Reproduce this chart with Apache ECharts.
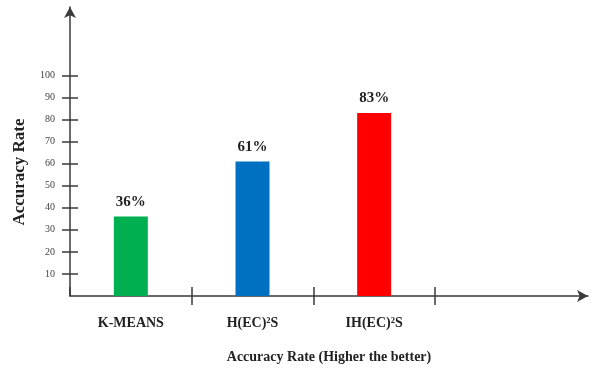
<!DOCTYPE html>
<html>
<head>
<meta charset="utf-8">
<style>
  html, body { margin: 0; padding: 0; background: #ffffff; }
  #chart { width: 594px; height: 368px; }
</style>
<script src="https://cdn.jsdelivr.net/npm/echarts@6/dist/echarts.min.js"></script>
</head>
<body>
<div id="chart"></div>
<script>
// Accuracy of the three clustering approaches
const categories = ['K-MEANS', 'H(EC)\u00B2S', 'IH(EC)\u00B2S'];
const accuracy = [36, 61, 83];
const barColors = ['#00B050', '#0070C0', '#FF0000'];
const yTickValues = [10, 20, 30, 40, 50, 60, 70, 80, 90, 100];
const yAxisTitle = 'Accuracy Rate';
const xAxisTitle = 'Accuracy Rate (Higher the better)';

const serif = '"Liberation Serif", "DejaVu Serif", serif';
const lineColor = '#3a3a3a';

const chart = echarts.init(document.getElementById('chart'), null, { renderer: 'canvas' });

const yBase = {
  type: 'value', min: 0, max: 131, interval: 10,
  gridIndex: 0, position: 'left',
  splitLine: { show: false }
};
const xBase = {
  type: 'category', data: categories, gridIndex: 0, position: 'bottom',
  boundaryGap: true, splitLine: { show: false }
};
// skip the boundary tick that would sit on the vertical axis
const tickFilter = (index) => index !== 0;

chart.setOption({
  animation: false,
  backgroundColor: '#ffffff',
  grid: [
    // plotting area holding the bars
    { left: 70, top: 7, width: 365, bottom: 72, containLabel: false, outerBoundsMode: 'none' },
    // full-length horizontal axis with arrow
    { left: 70, top: 7, right: 6, bottom: 72, containLabel: false, outerBoundsMode: 'none' }
  ],
  xAxis: [
    Object.assign({}, xBase, {
      axisLine: { show: false },
      axisTick: { show: true, inside: false, length: 9, interval: tickFilter,
        lineStyle: { color: lineColor, width: 1.5 } },
      axisLabel: {
        margin: 20, color: '#222', fontFamily: serif, fontWeight: 'bold', fontSize: 14
      }
    }),
    Object.assign({}, xBase, {
      axisLine: { show: false },
      axisTick: { show: true, inside: true, length: 9, lineStyle: { color: lineColor, width: 1.5 } },
      axisLabel: { show: false }
    }),
    {
      type: 'value', gridIndex: 1, min: 0, max: 1, position: 'bottom',
      axisLine: {
        show: true, symbol: ['none', 'arrow'], symbolSize: [9, 11],
        lineStyle: { color: lineColor, width: 1.5 }
      },
      axisTick: { show: false }, axisLabel: { show: false }, splitLine: { show: false },
      name: xAxisTitle, nameLocation: 'middle', nameGap: 54,
      nameTextStyle: { color: '#222', fontFamily: serif, fontWeight: 'bold', fontSize: 14 }
    }
  ],
  yAxis: [
    Object.assign({}, yBase, {
      axisLine: {
        show: true, symbol: ['none', 'arrow'], symbolSize: [9, 11],
        lineStyle: { color: lineColor, width: 1.5 }
      },
      axisTick: { show: true, inside: false, length: 8, customValues: yTickValues,
        lineStyle: { color: lineColor, width: 1.5 } },
      axisLabel: { show: true, margin: 15, customValues: yTickValues,
        color: '#404040', fontFamily: serif, fontSize: 10 }
    }),
    Object.assign({}, yBase, {
      axisLine: { show: false },
      axisTick: { show: true, inside: true, length: 8, customValues: yTickValues,
        lineStyle: { color: lineColor, width: 1.5 } },
      axisLabel: { show: false }
    }),
    {
      type: 'value', gridIndex: 1, min: 0, max: 1, show: false
    }
  ],
  graphic: [
    {
      type: 'text', x: 20, y: 172, rotation: Math.PI / 2,
      style: {
        text: yAxisTitle, fill: '#222', font: 'bold 17px ' + serif,
        textAlign: 'center', textVerticalAlign: 'middle'
      }
    }
  ],
  series: [
    {
      type: 'bar', xAxisIndex: 0, yAxisIndex: 0,
      barWidth: 34,
      data: accuracy.map((v, i) => ({ value: v, itemStyle: { color: barColors[i] } })),
      label: {
        show: true, position: 'top', distance: 7,
        formatter: p => p.value + '%',
        color: '#222', fontFamily: serif, fontWeight: 'bold', fontSize: 15
      }
    }
  ]
});
</script>
</body>
</html>
